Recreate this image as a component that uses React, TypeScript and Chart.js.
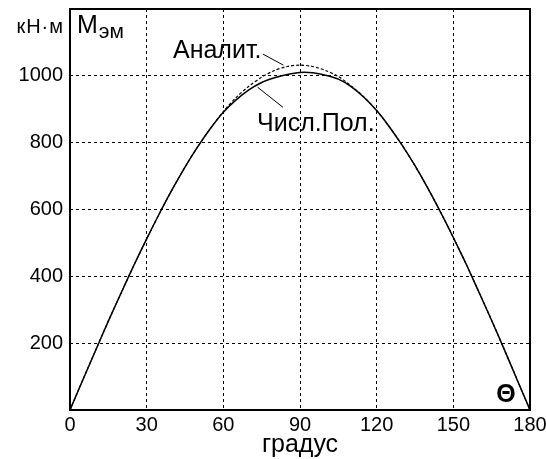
import React, { useEffect, useRef } from "react";
import { Chart, registerables } from "chart.js";

Chart.register(...registerables);

// Angle θ, degrees
const angles = [
  0, 5, 10, 15, 20, 25, 30, 35, 40, 45, 50, 55, 60, 65, 70, 75, 80, 85, 90,
  95, 100, 105, 110, 115, 120, 125, 130, 135, 140, 145, 150, 155, 160, 165,
  170, 175, 180,
];
// Analytical torque, kN·m (dashed)
const analytic = [
  0, 90, 178, 266, 350, 433, 512, 588, 660, 727, 788, 843, 893, 935, 969,
  996, 1016, 1028, 1032, 1028, 1016, 998, 970, 937, 896, 847, 792, 731, 664,
  592, 516, 437, 353, 268, 180, 90, 0,
];
// Numerical field solution, kN·m (solid)
const numeric = [
  0, 90, 178, 266, 350, 433, 512, 588, 660, 727, 788, 843, 891, 928, 958,
  980, 994, 1004, 1010, 1009, 1002, 990, 968, 936, 896, 847, 792, 731, 664,
  592, 516, 437, 353, 268, 180, 90, 0,
];

const xMin = 0;
const xMax = 180;
const xStep = 30;
const yMin = 0;
const yMax = 1200;
const yStep = 200;
const yTickLabels = [200, 400, 600, 800, 1000];

const xTitle = "градус";
const yUnit = "кН·м";
const quantityMain = "М";
const quantitySub = "эм";
const thetaLabel = "Θ";
const labelAnalytic = "Аналит.";
const labelNumeric = "Числ.Пол.";

const FONT = '"Liberation Sans", Arial, sans-serif';

export default function App() {
  const ref = useRef<HTMLCanvasElement | null>(null);

  useEffect(() => {
    const canvas = ref.current;
    if (!canvas) return;

    const framePlugin = {
      id: "frame",
      afterDatasetsDraw(chart: any) {
        const { ctx, chartArea: a } = chart;
        ctx.save();
        ctx.strokeStyle = "#000";
        ctx.lineWidth = 2;
        ctx.setLineDash([]);
        ctx.strokeRect(a.left, a.top, a.right - a.left, a.bottom - a.top);
        ctx.restore();
      },
    };

    const textPlugin = {
      id: "texts",
      afterDraw(chart: any) {
        const { ctx, chartArea: a } = chart;
        const xs = chart.scales.x;
        const ys = chart.scales.y;
        const px = (v: number) => xs.getPixelForValue(v);
        const py = (v: number) => ys.getPixelForValue(v);
        ctx.save();
        ctx.fillStyle = "#000";
        ctx.strokeStyle = "#000";

        // unit label left of the axis
        ctx.font = `20px ${FONT}`;
        ctx.textAlign = "right";
        ctx.textBaseline = "alphabetic";
        try { (ctx as any).letterSpacing = "1px"; } catch (e) {}
        ctx.fillText(yUnit, a.left - 6, a.top + 24);
        try { (ctx as any).letterSpacing = "0px"; } catch (e) {}

        // M_эм
        ctx.textAlign = "left";
        ctx.font = `25px ${FONT}`;
        ctx.fillText(quantityMain, a.left + 7, a.top + 24);
        const mw = ctx.measureText(quantityMain).width;
        ctx.font = `21px ${FONT}`;
        ctx.fillText(quantitySub, a.left + 7 + mw + 1, a.top + 29);

        // series labels
        ctx.font = `25px ${FONT}`;
        ctx.textBaseline = "middle";
        ctx.fillText(labelAnalytic, px(40.3), py(1074));
        ctx.fillText(labelNumeric, px(73.2), py(855));

        // leader lines
        ctx.lineWidth = 1;
        ctx.setLineDash([]);
        ctx.beginPath();
        ctx.moveTo(px(75.5), py(1065));
        ctx.lineTo(px(83.5), py(1032));
        ctx.moveTo(px(73.4), py(966));
        ctx.lineTo(px(83.3), py(906));
        ctx.stroke();

        // theta
        ctx.font = `bold 25px ${FONT}`;
        ctx.textAlign = "center";
        ctx.fillText(thetaLabel, px(170.6), py(45));

        ctx.restore();
      },
    };

    const chart = new Chart(canvas, {
      type: "line",
      data: {
        datasets: [
          {
            label: labelAnalytic,
            data: angles.map((a, i) => ({ x: a, y: analytic[i] })),
            borderColor: "#000",
            borderWidth: 1.2,
            borderDash: [3, 2],
            pointRadius: 0,
            fill: false,
            tension: 0.3,
          },
          {
            label: labelNumeric,
            data: angles.map((a, i) => ({ x: a, y: numeric[i] })),
            borderColor: "#000",
            borderWidth: 1.5,
            pointRadius: 0,
            fill: false,
            tension: 0.3,
          },
        ],
      },
      options: {
        responsive: false,
        animation: false,
        devicePixelRatio: 1,
        layout: { padding: { left: 0, right: 16, top: 9, bottom: 0 } },
        plugins: {
          legend: { display: false },
          tooltip: { enabled: false },
        },
        scales: {
          x: {
            type: "linear",
            min: xMin,
            max: xMax,
            ticks: {
              stepSize: xStep,
              color: "#000",
              font: { family: FONT, size: 20 },
              padding: 3,
              maxRotation: 0,
            },
            grid: {
              color: "#000",
              lineWidth: 1,
              drawTicks: false,
            },
            border: { display: false, dash: [3, 3] },
            title: {
              display: true,
              text: xTitle,
              color: "#000",
              font: { family: FONT, size: 25, lineHeight: 1 },
              padding: { top: 0, bottom: 1 },
            },
            afterFit(scale: any) {
              scale.height = 49;
              scale.paddingLeft = 0;
              scale.paddingRight = 0;
              scale.paddingTop = 0;
              scale.paddingBottom = 0;
            },
          },
          y: {
            type: "linear",
            min: yMin,
            max: yMax,
            ticks: {
              stepSize: yStep,
              color: "#000",
              font: { family: FONT, size: 20 },
              padding: 7,
              callback: (v: any) =>
                yTickLabels.includes(Number(v)) ? String(v) : "",
            },
            grid: {
              color: "#000",
              lineWidth: 1,
              drawTicks: false,
            },
            border: { display: false, dash: [3, 3] },
            afterFit(scale: any) {
              scale.width = 70;
              scale.paddingLeft = 0;
              scale.paddingRight = 0;
              scale.paddingTop = 0;
              scale.paddingBottom = 0;
            },
          },
        },
      },
      plugins: [framePlugin, textPlugin],
    } as any);

    return () => chart.destroy();
  }, []);

  return (
    <canvas
      ref={ref}
      width={546}
      height={459}
      style={{
        position: "fixed",
        left: 0,
        top: 0,
        width: 546,
        height: 459,
        background: "#fff",
      }}
    />
  );
}
